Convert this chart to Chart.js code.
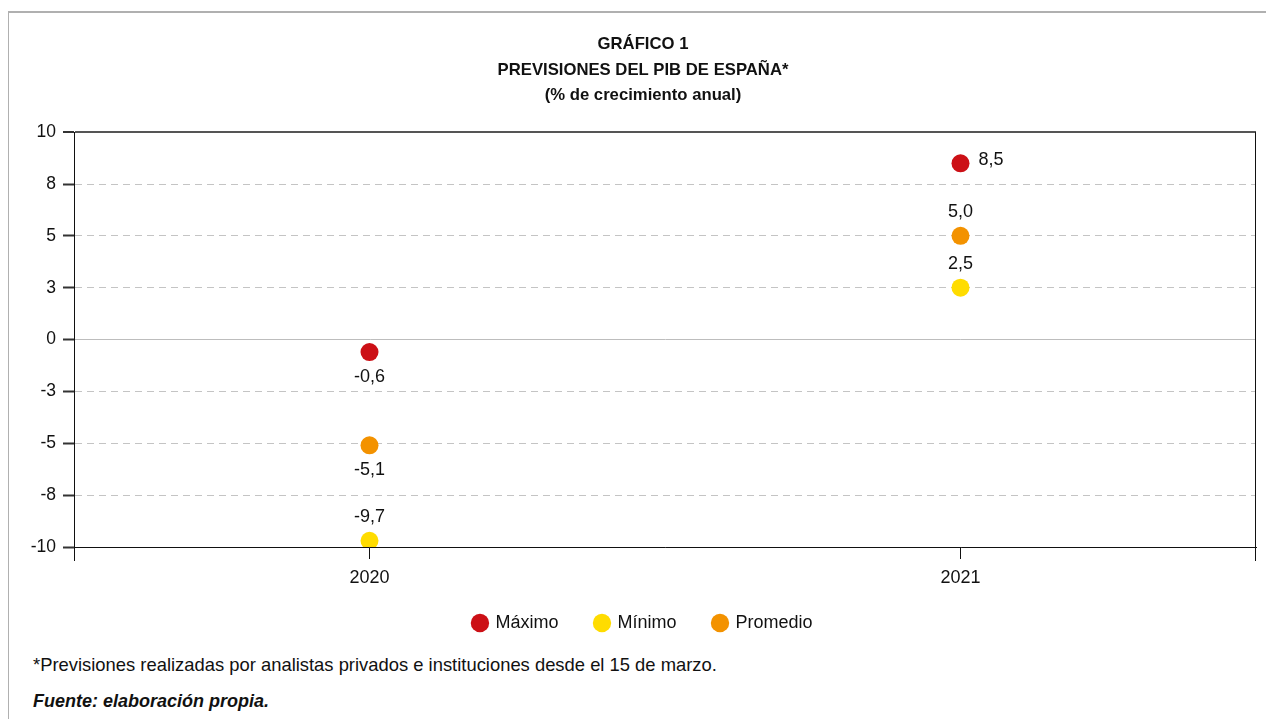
<!DOCTYPE html>
<html>
<head>
<meta charset="utf-8">
<script src="https://cdn.jsdelivr.net/npm/chart.js@4.4.1/dist/chart.umd.min.js"></script>
<style>
  body { margin: 0; background: #fff; font-family: "Liberation Sans", Arial, sans-serif; }
  #frame { position: absolute; left: 8px; top: 11px; width: 1258px; height: 708px;
           border-top: 2px solid #b0b0b0; border-left: 1px solid #b0b0b0; }
  #wrap { position: absolute; left: 20px; top: 0; width: 1246px; height: 642px; }
  .note { position: absolute; left: 33px; color: #111; white-space: nowrap; }
</style>
</head>
<body>
<div id="frame"></div>
<div id="wrap"><canvas id="statChart"></canvas></div>
<div class="note" style="top:654px;font-size:18.4px">*Previsiones realizadas por analistas privados e instituciones desde el 15 de marzo.</div>
<div class="note" style="top:691px;font-size:18px;font-weight:bold;font-style:italic">Fuente: elaboración propia.</div>
<script>
var years = ['2020', '2021']
var maximo = [-0.6, 8.5]
var minimo = [-9.7, 2.5]
var promedio = [-5.1, 5.0]
var seriesNames = ['Máximo', 'Mínimo', 'Promedio']
var titleLines = ['GRÁFICO 1', 'PREVISIONES DEL PIB DE ESPAÑA*', '(% de crecimiento anual)']

var colors = ['#cc1016', '#ffdc00', '#f39200']
// where each value label sits relative to its point
var labelPlace = [['below', 'right'], ['above', 'above'], ['below', 'above']]

var font = '"Liberation Sans", Arial, sans-serif'

function fmtComma(v) {
	return v.toFixed(1).replace('.', ',')
}

var valueLabels = {
	id: 'valueLabels',
	afterDatasetsDraw(chart) {
		var ctx = chart.ctx
		ctx.save()
		ctx.font = '18px ' + font
		ctx.fillStyle = '#111'
		ctx.textBaseline = 'middle'
		chart.data.datasets.forEach((ds, i) => {
			chart.getDatasetMeta(i).data.forEach((pt, j) => {
				var place = labelPlace[i][j]
				var txt = fmtComma(ds.data[j])
				if (place == 'right') {
					ctx.textAlign = 'left'
					ctx.fillText(txt, pt.x + 18, pt.y - 3)
				} else {
					ctx.textAlign = 'center'
					ctx.fillText(txt, pt.x, place == 'below' ? pt.y + 25 : pt.y - 24)
				}
			})
		})
		ctx.restore()
	}
}

var frameLines = {
	id: 'frameLines',
	afterDraw(chart) {
		var a = chart.chartArea, ctx = chart.ctx
		ctx.save()
		ctx.strokeStyle = '#111'
		ctx.lineWidth = 1
		ctx.beginPath()
		ctx.moveTo(a.right - 0.5, a.top)
		ctx.lineTo(a.right - 0.5, a.bottom + 14)
		ctx.moveTo(a.left + 0.5, a.bottom)
		ctx.lineTo(a.left + 0.5, a.bottom + 14)
		ctx.stroke()
		ctx.restore()
	}
}

var allSeries = [maximo, minimo, promedio]

new Chart(document.getElementById('statChart'), {
	type: 'line',
	data: {
		labels: years,
		datasets: allSeries.map((d, i) => ({
			label: seriesNames[i],
			data: d,
			showLine: false,
			pointRadius: 9,
			pointHoverRadius: 9,
			pointBorderWidth: 0,
			backgroundColor: colors[i],
			borderColor: colors[i]
		}))
	},
	options: {
		responsive: true,
		maintainAspectRatio: false,
		animation: false,
		layout: { padding: { left: 10, right: 10, top: 0, bottom: 0 } },
		plugins: {
			tooltip: { enabled: false },
			title: {
				display: true,
				text: titleLines,
				color: '#111',
				font: { family: font, size: 16.7, weight: 'bold', lineHeight: 1.53 },
				padding: { top: 32, bottom: 23.5 }
			},
			legend: {
				position: 'bottom',
				labels: {
					usePointStyle: true,
					pointStyle: 'circle',
					boxWidth: 13,
					boxHeight: 13,
					padding: 22,
					color: '#111',
					font: { family: font, size: 18 },
					generateLabels(chart) {
						var items = Chart.defaults.plugins.legend.labels.generateLabels(chart)
						items.forEach((it, i) => { if (i < items.length - 1) it.text += '   ' })
						return items
					}
				}
			}
		},
		scales: {
			x: {
				offset: true,
				grid: {
					offset: false,
					drawOnChartArea: false,
					tickLength: 12,
					tickColor: '#111'
				},
				border: { color: '#111', width: 1 },
				ticks: { color: '#111', padding: 8, font: { family: font, size: 18 } },
				afterFit(scale) { scale.height = 45 }
			},
			y: {
				min: -10,
				max: 10,
				grid: {
					color: c => c.tick.value == 10 ? '#555' : c.tick.value == 0 ? '#bdbdbd' : c.tick.value == -10 ? '#999' : '#c4c4c4',
					lineWidth: c => c.tick.value == 10 ? 2 : 1,
					tickLength: 11,
					tickColor: '#333',
					tickWidth: 2
				},
				border: {
					color: '#111',
					width: 1,
					dash: c => (c.tick && (c.tick.value == 10 || c.tick.value == 0 || c.tick.value == -10)) ? [] : [7, 5]
				},
				ticks: {
					stepSize: 2.5,
					color: '#111',
					padding: 7,
					font: { family: font, size: 17.5 },
					callback: v => String(Math.sign(v) * Math.round(Math.abs(v)))
				},
				afterFit(scale) { scale.width = 44 }
			}
		}
	},
	plugins: [valueLabels, frameLines]
})
</script>
</body>
</html>
